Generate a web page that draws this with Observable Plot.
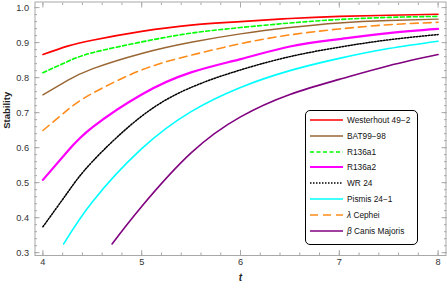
<!DOCTYPE html>
<html><head><meta charset="utf-8">
<script src="https://cdn.jsdelivr.net/npm/d3@7"></script>
<script src="https://cdn.jsdelivr.net/npm/@observablehq/plot@0.6"></script>
<style>
body{margin:0;background:#fff;font-family:"Liberation Sans",Arial,sans-serif}
#wrap{position:relative;width:447px;height:288px}
#legend{position:absolute;left:305px;top:110px;width:111px;height:133px;border:1px solid #000;border-radius:5px;background:#fff}
.row{position:absolute;left:4px;height:16px;display:flex;align-items:center;font-size:8.3px;color:#111;white-space:nowrap}
.row svg{margin-right:4px;display:block}
</style></head><body><div id="wrap"><div id="chart"></div><div id="legend"></div></div>
<script>
// Sample times (common grid for series starting at t = 4)
const tGrid = [4, 4.25, 4.5, 5, 5.5, 6, 6.5, 7, 7.5, 8];
const westerhout = [0.866, 0.890, 0.907, 0.932, 0.950, 0.960, 0.969, 0.975, 0.978, 0.981];
const r136a1     = [0.814, 0.846, 0.871, 0.902, 0.927, 0.943, 0.956, 0.966, 0.972, 0.975];
const bat99      = [0.751, 0.792, 0.825, 0.869, 0.901, 0.925, 0.943, 0.956, 0.963, 0.967];
const cephei     = [0.649, 0.708, 0.755, 0.822, 0.864, 0.897, 0.922, 0.939, 0.951, 0.958];
const r136a2     = [0.508, 0.590, 0.658, 0.752, 0.815, 0.853, 0.889, 0.910, 0.927, 0.939];
const wr24       = [0.374, 0.472, 0.560, 0.690, 0.772, 0.822, 0.860, 0.887, 0.908, 0.923];
const tPismis = [4.21, 4.5, 5, 5.5, 6, 6.5, 7, 7.5, 8];
const pismis  = [0.325, 0.445, 0.597, 0.703, 0.772, 0.820, 0.855, 0.883, 0.904];
const tCanis  = [4.70, 5, 5.5, 6, 6.5, 7, 7.5, 8];
const canis   = [0.325, 0.432, 0.585, 0.688, 0.752, 0.795, 0.834, 0.866];

const xMajor = [4, 5, 6, 7, 8];
const yMajor = [0.3, 0.4, 0.5, 0.6, 0.7, 0.8, 0.9, 1.0];
const xMinor = d3.range(20, 41).map(d => d / 5);
const yMinor = d3.range(15, 51).map(d => d / 50);

// Legend order
const series = [
  {name: "Westerhout 49−2", html: "Westerhout 49−2", t: tGrid, v: westerhout, color: "#ff0000", width: 1.6, dash: null},
  {name: "BAT99−98", html: "BAT99−98", t: tGrid, v: bat99, color: "#996633", width: 1.4, dash: null},
  {name: "R136a1", html: "R136a1", t: tGrid, v: r136a1, color: "#00ff00", width: 1.6, dash: "4,2.5"},
  {name: "R136a2", html: "R136a2", t: tGrid, v: r136a2, color: "#ff00ff", width: 2.2, dash: null},
  {name: "WR 24", html: "WR 24", t: tGrid, v: wr24, color: "#000000", width: 1.5, dash: "1.5,1.5"},
  {name: "Pismis 24−1", html: "Pismis 24−1", t: tPismis, v: pismis, color: "#00ffff", width: 1.6, dash: null},
  {name: "λ Cephei", html: "<i>λ</i> Cephei", t: tGrid, v: cephei, color: "#ff8c1a", width: 1.6, dash: "8,5"},
  {name: "β Canis Majoris", html: "<i>β</i> Canis Majoris", t: tCanis, v: canis, color: "#800080", width: 1.6, dash: null}
];

const frameColor = "#a8a8a8";
const lineMarks = series.map(s => Plot.line(s.t.map((t, i) => ({t, v: s.v[i]})), {
  x: "t", y: "v", stroke: s.color, strokeWidth: s.width, strokeDasharray: s.dash, curve: "natural"
}));

const tickOpts = (size) => ({tickSize: size, tickFormat: () => "", stroke: frameColor, label: null});

const chart = Plot.plot({
  width: 447, height: 288,
  marginLeft: 34.5, marginRight: 1.5, marginTop: 1.5, marginBottom: 33,
  x: {domain: [3.92, 8.08], axis: null},
  y: {domain: [0.292, 1.016], axis: null},
  style: {fontFamily: '"Liberation Sans", Arial, sans-serif', background: "#fff"},
  marks: [
    ...lineMarks,
    Plot.frame({stroke: frameColor}),
    Plot.axisX(xMinor, {anchor: "bottom", dy: -2.5, ...tickOpts(2.5)}),
    Plot.axisX(xMajor, {anchor: "bottom", dy: -5, ...tickOpts(5)}),
    Plot.axisX(xMinor, {anchor: "top", dy: 2.5, ...tickOpts(2.5)}),
    Plot.axisX(xMajor, {anchor: "top", dy: 5, ...tickOpts(5)}),
    Plot.axisY(yMinor, {anchor: "left", dx: 2.5, ...tickOpts(2.5)}),
    Plot.axisY(yMajor, {anchor: "left", dx: 5, ...tickOpts(5)}),
    Plot.axisY(yMinor, {anchor: "right", dx: -2.5, ...tickOpts(2.5)}),
    Plot.axisY(yMajor, {anchor: "right", dx: -5, ...tickOpts(5)}),
    Plot.axisX(xMajor, {anchor: "bottom", tickSize: 0, tickPadding: 3, fontSize: 9.2, fill: "#333", label: null, tickFormat: d => String(d)}),
    Plot.axisY(yMajor, {anchor: "left", tickSize: 0, tickPadding: 6, fontSize: 9.2, fill: "#333", label: null, tickFormat: d3.format(".1f")}),
    Plot.text(["t"], {text: d => d, frameAnchor: "bottom", dy: 25, fontStyle: "italic", fontWeight: "bold", fontSize: 10, fill: "#222"}),
    Plot.text(["Stability"], {text: d => d, frameAnchor: "left", rotate: -90, dx: -28.5, fontWeight: "bold", fontSize: 9.5, fill: "#222"})
  ]
});
document.getElementById("chart").appendChild(chart);

const legend = document.getElementById("legend");
series.forEach((s, i) => {
  const row = document.createElement("div");
  row.className = "row";
  row.style.top = (1 + i * 15.8) + "px";
  row.innerHTML = `<svg width="33" height="6"><line x1="0" y1="3" x2="33" y2="3" stroke="${s.color}" stroke-width="${s.width}" ${s.dash ? `stroke-dasharray="${s.dash}"` : ""}/></svg><span>${s.html}</span>`;
  legend.appendChild(row);
});
</script></body></html>
